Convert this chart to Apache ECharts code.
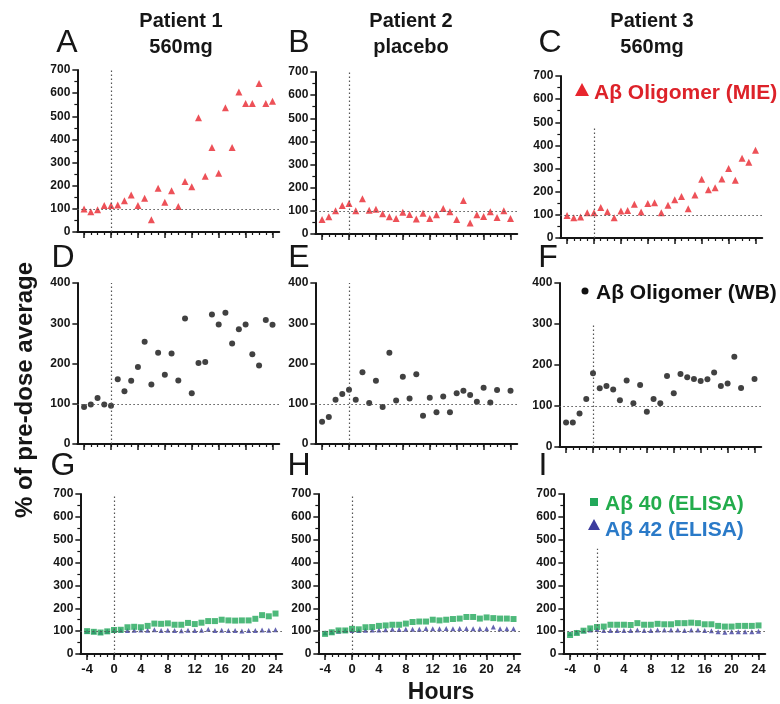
<!DOCTYPE html>
<html><head><meta charset="utf-8">
<script src="https://cdn.jsdelivr.net/npm/echarts@6/dist/echarts.min.js"></script>
<style>html,body{margin:0;padding:0;background:#fff}#c{width:780px;height:704px}</style>
</head><body><div id="c"></div>
<script>
// ---------- data ----------
const hours = [-4,-3,-2,-1,0,1,2,3,4,5,6,7,8,9,10,11,12,13,14,15,16,17,18,19,20,21,22,23,24];
const xTickLabels = [-4,0,4,8,12,16,20,24];

const mieP1 = [99,88,96,114,114,117,135,160,114,146,53,189,129,178,110,218,195,494,241,365,254,537,365,605,555,555,642,555,565];
const mieP2 = [63,74,100,123,132,100,152,103,107,88,74,67,94,84,65,90,67,83,110,96,63,145,47,83,76,96,71,101,67];
const mieP3 = [97,87,91,109,109,132,113,87,117,119,146,112,149,152,109,142,165,179,126,186,254,208,217,255,300,250,345,327,379];

const wbP1 = [92,98,114,98,95,161,131,157,191,254,148,227,172,225,158,312,126,201,204,322,297,326,250,285,297,223,195,308,296];
const wbP2 = [55,67,110,124,135,110,178,102,157,92,227,108,167,113,173,70,115,79,118,79,126,132,122,105,140,103,134,null,132];
const wbP3 = [60,60,82,117,180,143,149,140,114,162,107,151,86,117,107,173,131,178,170,166,161,165,182,149,155,220,144,null,166];

const ab40P1 = [100,97,94,99,105,106,117,119,117,123,133,132,134,128,128,136,131,137,144,144,150,147,146,147,147,154,170,165,177];
const ab42P1 = [100,98,95,100,103,104,103,104,105,104,106,103,104,103,102,104,103,104,108,103,104,103,103,101,103,103,105,104,106];
const ab40P2 = [88,95,103,103,110,108,117,118,123,125,128,128,133,140,142,142,150,147,150,153,155,162,162,155,160,157,155,155,153];
const ab42P2 = [93,96,100,103,103,103,104,105,105,106,108,107,108,108,108,112,110,110,112,110,112,112,111,111,110,118,110,111,110];
const ab40P3 = [83,92,102,112,118,120,128,128,128,127,135,128,128,132,130,130,135,135,137,135,130,130,123,120,120,123,123,123,125];
const ab42P3 = [90,95,102,105,107,103,103,103,103,103,105,103,103,105,105,105,105,103,105,105,103,102,97,95,97,97,97,97,100];

const letters = ['A','B','C','D','E','F','G','H','I'];
const patientTitles = ['Patient 1','Patient 2','Patient 3'];
const doseTitles = ['560mg','placebo','560mg'];

// ---------- layout ----------
const S = 6.73;
const panels = [
  {x0:111, top:70,  h:162, yMax:700, vTop:700},
  {x0:349, top:72,  h:162, yMax:700, vTop:700},
  {x0:594, top:76,  h:162, yMax:700, vTop:480},
  {x0:111, top:283, h:161, yMax:400, vTop:400},
  {x0:349, top:283, h:161, yMax:400, vTop:400},
  {x0:593, top:283, h:164, yMax:400, vTop:300},
  {x0:114, top:494, h:160, yMax:700, vTop:700},
  {x0:352, top:494, h:160, yMax:700, vTop:700},
  {x0:597, top:494, h:160, yMax:700, vTop:460}
];
const SANS = '"Liberation Sans",Arial,sans-serif';
const INK = '#161616';

const RED = '#e8262e', BLACK = '#111111', GREEN = '#22a85a', BLUE = '#3d3d9e';

function pts(vals){ const out=[]; hours.forEach((h,k)=>{ if(vals[k]!=null) out.push([h,vals[k]]); }); return out; }

const grid=[], xAxis=[], yAxis=[], series=[];
panels.forEach((p,i)=>{
  grid.push({left:p.x0-5*S, top:p.top, width:30*S, height:p.h});
  const bottomRow = i>=6;
  xAxis.push({gridIndex:i, type:'value', min:-5, max:25, position:'bottom',
    axisLine:{show:true,onZero:false,lineStyle:{color:INK,width:2}},
    splitLine:{show:false},
    axisTick:{show:true, customValues:hours, length:3, lineStyle:{color:INK,width:1.2}},
    axisLabel:{show:bottomRow, customValues:xTickLabels, fontFamily:SANS, fontWeight:'bold', fontSize:13, color:INK, margin:9}
  });
  xAxis.push({gridIndex:i, type:'value', min:-5, max:25, position:'bottom',
    axisLine:{show:false,onZero:false}, splitLine:{show:false},
    axisTick:{show:true, customValues:xTickLabels, length:6, lineStyle:{color:INK,width:1.5}},
    axisLabel:{show:false}
  });
  yAxis.push({gridIndex:i, type:'value', min:0, max:p.yMax, interval:100, position:'left',
    axisLine:{show:true,onZero:false,lineStyle:{color:INK,width:2}},
    axisTick:{show:true,length:5,lineStyle:{color:INK,width:1.5}},
    minorTick:{show:p.yMax===700, splitNumber:2, length:3, lineStyle:{color:INK,width:1.2}},
    splitLine:{show:false}, minorSplitLine:{show:false},
    axisLabel:{fontFamily:SANS, fontWeight:'bold', fontSize:12, color:INK, margin:7}
  });
});

const ml = (vTop)=>({silent:true, symbol:'none', animation:false, label:{show:false},
  lineStyle:{type:[1.5,2.5], color:'#555', width:1.2},
  data:[[{coord:[0,0]},{coord:[0,vTop]}],[{coord:[-5,100]},{coord:[25,100]}]]});

function addSeries(i, vals, symbol, size, color, withLine){
  const s = {type:'scatter', xAxisIndex:2*i, yAxisIndex:i, data:pts(vals), symbol:symbol, symbolSize:size,
    itemStyle:{color:color}, silent:true, z:3};
  if(withLine) s.markLine = ml(panels[i].vTop);
  series.push(s);
}
addSeries(0, mieP1, 'triangle', 7, RED, true);
addSeries(1, mieP2, 'triangle', 7, RED, true);
addSeries(2, mieP3, 'triangle', 7, RED, true);
addSeries(3, wbP1, 'circle', 6, BLACK, true);
addSeries(4, wbP2, 'circle', 6, BLACK, true);
addSeries(5, wbP3, 'circle', 6, BLACK, true);
addSeries(6, ab42P1, 'triangle', 5, BLUE, true);
addSeries(6, ab40P1, 'rect', 6, GREEN, false);
addSeries(7, ab42P2, 'triangle', 5, BLUE, true);
addSeries(7, ab40P2, 'rect', 6, GREEN, false);
addSeries(8, ab42P3, 'triangle', 5, BLUE, true);
addSeries(8, ab40P3, 'rect', 6, GREEN, false);

// ---------- text / legends ----------
const graphic = [];
const letterPos = [[67,43],[299,43],[550,43],[63,258],[299,258],[548,258],[63,466],[299,466],[543,466]];
letters.forEach((L,k)=>graphic.push({type:'text', x:letterPos[k][0], y:letterPos[k][1],
  style:{text:L, font:'32px '+SANS, fill:INK, align:'center', verticalAlign:'middle'}}));
const headX = [181,411,652];
patientTitles.forEach((t,k)=>{
  graphic.push({type:'text', x:headX[k], y:21, style:{text:t, font:'bold 20px '+SANS, fill:INK, align:'center', verticalAlign:'middle'}});
  graphic.push({type:'text', x:headX[k], y:47, style:{text:doseTitles[k], font:'bold 20px '+SANS, fill:INK, align:'center', verticalAlign:'middle'}});
});
graphic.push({type:'text', x:441, y:693, style:{text:'Hours', font:'bold 23px '+SANS, fill:INK, align:'center', verticalAlign:'middle'}});
graphic.push({type:'text', x:25, y:390, rotation:Math.PI/2, style:{text:'% of pre-dose average', font:'bold 24px '+SANS, fill:INK, align:'center', verticalAlign:'middle'}});

// legend C
graphic.push({type:'polygon', shape:{points:[[575,96],[589,96],[582,83]]}, style:{fill:RED}});
graphic.push({type:'text', x:594, y:93, style:{text:'Aβ Oligomer (MIE)', font:'bold 21px '+SANS, fill:'#dd2229', align:'left', verticalAlign:'middle'}});
// legend F
graphic.push({type:'circle', shape:{cx:585, cy:291, r:3.5}, style:{fill:BLACK}});
graphic.push({type:'text', x:596, y:293, style:{text:'Aβ Oligomer (WB)', font:'bold 21px '+SANS, fill:BLACK, align:'left', verticalAlign:'middle'}});
// legend I
graphic.push({type:'rect', shape:{x:590, y:498, width:8, height:8}, style:{fill:GREEN}});
graphic.push({type:'text', x:605, y:504, style:{text:'Aβ 40 (ELISA)', font:'bold 21px '+SANS, fill:'#23ac4c', align:'left', verticalAlign:'middle'}});
graphic.push({type:'polygon', shape:{points:[[588,530],[600,530],[594,519]]}, style:{fill:BLUE}});
graphic.push({type:'text', x:605, y:530, style:{text:'Aβ 42 (ELISA)', font:'bold 21px '+SANS, fill:'#2a7ac8', align:'left', verticalAlign:'middle'}});

const chart = echarts.init(document.getElementById('c'));
chart.setOption({animation:false, backgroundColor:'#fff', grid, xAxis, yAxis, series, graphic});
</script></body></html>
